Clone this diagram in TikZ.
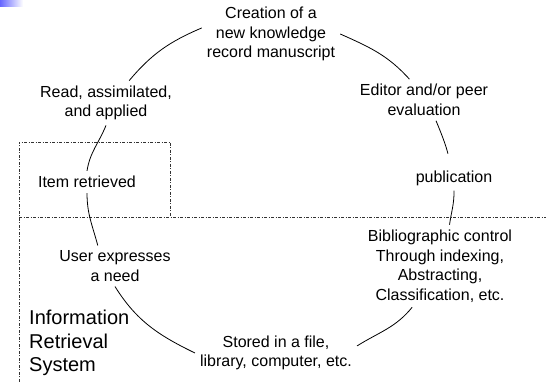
\documentclass[tikz,border=0pt]{standalone}
\usepackage{fontspec}
\setmainfont{Liberation Sans}
\usetikzlibrary{calc, arrows.meta, positioning}

\begin{document}
\begin{tikzpicture}[x=1pt, y=1pt,
    stage/.style={align=center, inner sep=5pt, font=\fontsize{16}{19.5}\selectfont},
    cycle/.style={line width=0.8pt},
    border/.style={line width=0.6pt, black!80, dash pattern=on 3pt off 1.5pt on 1pt off 1.5pt}]
    \useasboundingbox (0,0) rectangle (546,382);

    % Corner bar
    \shade[left color=blue!60, right color=white] (0,375) rectangle (23,382);

    % Stages of the cycle
    \node[stage] (create) at (271,348) {Creation of a\\new knowledge\\record manuscript};
    \node[stage] (editor) at (424,282) {Editor and/or peer\\evaluation};
    \node[stage] (pub) at (454,204) {publication};
    \node[stage] (biblio) at (440,116) {Bibliographic control\\Through indexing,\\Abstracting,\\Classification, etc.};
    \node[stage] (stored) at (276,29) {Stored in a file,\\library, computer, etc.};
    \node[stage] (user) at (115,116) {User expresses\\a need};
    \node[stage] (item) at (87,200) {Item retrieved};
    \node[stage] (read) at (106,279) {Read, assimilated,\\and applied};

    % System boundary
    \draw[border] (19,0) -- (19,240) -- (170,240) -- (170,165);
    \draw[border] (19,165) -- (546,165);
    \node[anchor=west, align=left, inner sep=5pt, font=\fontsize{20}{23.5}\selectfont] (irs) at (24,39) {Information\\Retrieval\\System};

    % Arcs of the cycle
    \draw[cycle] (create.east) to[out=-24, in=132] (editor.125);
    \draw[cycle, shorten >=12pt] (editor.-60) to[out=-67, in=104] (pub.104);
    \draw[cycle] (pub.south) to[out=-89, in=82] (biblio.77);
    \draw[cycle] (biblio.-124) to[out=-129, in=32] (stored.5);
    \draw[cycle] (stored.west) to[out=154, in=-58] (user.south);
    \draw[cycle] (user.130) to[out=105, in=-90] (item.south);
    \draw[cycle] (item.north) to[out=81, in=-112] (read.south);
    \draw[cycle] (read.44) to[out=50, in=203] (create.175);
\end{tikzpicture}
\end{document}
